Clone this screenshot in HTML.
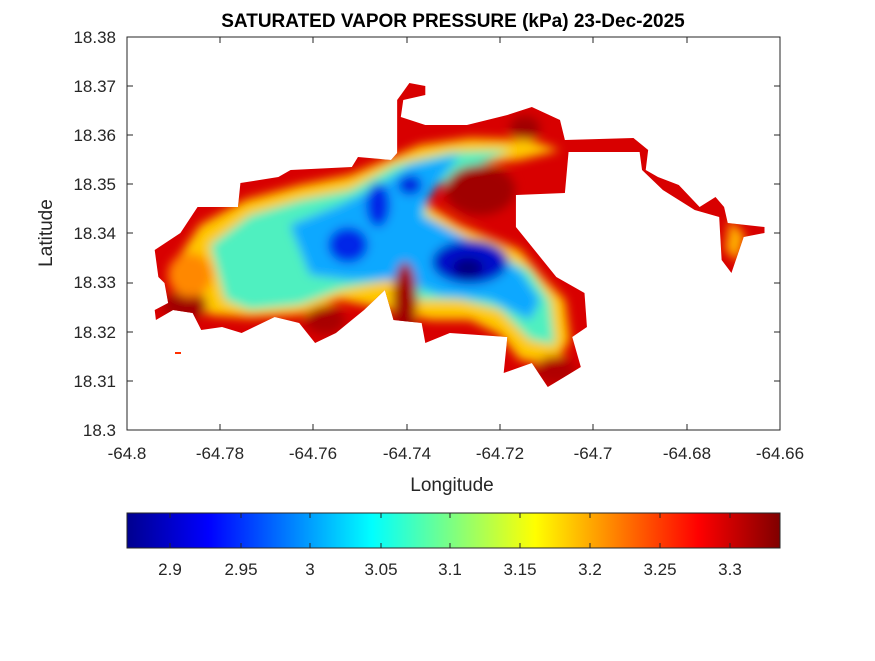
<!DOCTYPE html>
<html><head><meta charset="utf-8"><style>
body{margin:0;background:#fff;width:875px;height:656px;overflow:hidden}
svg{font-family:"Liberation Sans",sans-serif}
</style></head><body>
<svg width="875" height="656" viewBox="0 0 875 656">
<defs>
<clipPath id="isl"><path transform="translate(140,0) scale(1.2245,1) translate(-140,0)" d="M318,157 L345,160 L350,153 L350,100 L353,95 L360,83 L373,86 L373,95 L355,100 L353,117 L373,125 L407,125 L440,115 L460,107 L483,120 L487,140 L543,138 L555,150 L553,170 L563,177 L580,185 L597,207 L610,197 L617,207 L620,223 L650,227 L650,233 L633,237 L623,273 L615,260 L613,217 L593,210 L567,190 L550,170 L548,152 L490,152 L487,193 L447,195 L447,227 L480,277 L503,293 L505,327 L493,337 L500,367 L473,387 L460,363 L437,373 L440,337 L393,333 L373,343 L370,323 L347,320 L340,290 L323,310 L300,333 L283,343 L270,323 L250,317 L223,333 L207,327 L190,330 L183,313 L167,310 L153,320 L152,310 L163,303 L160,283 L155,277 L152,250 L173,233 L187,207 L220,207 L222,183 L253,177 L263,170 L313,167 Z"/></clipPath>
<filter id="bl" x="-20%" y="-20%" width="140%" height="140%"><feGaussianBlur stdDeviation="5"/></filter>
<linearGradient id="jet" x1="0" x2="1">
<stop offset="0" stop-color="#00008f"/><stop offset="0.125" stop-color="#0000ff"/><stop offset="0.375" stop-color="#00ffff"/><stop offset="0.625" stop-color="#ffff00"/><stop offset="0.875" stop-color="#ff0000"/><stop offset="1" stop-color="#800000"/>
</linearGradient>
</defs>
<rect x="127" y="37" width="653" height="393" fill="#fff" stroke="#262626" stroke-width="1"/>
<g clip-path="url(#isl)">
<rect x="140" y="70" width="650" height="330" fill="#d80000"/>
<g filter="url(#bl)">
<path d="M180,255 L200,225 L245,200 L300,185 L350,175 L385,160 L420,145 L470,138 L530,140 L560,150 L520,160 L470,165 L430,185 L420,200 L460,225 L520,250 L545,280 L565,300 L570,340 L555,365 L520,360 L500,335 L470,320 L430,320 L390,310 L340,300 L300,315 L250,318 L210,315 L185,300 Z" fill="#ffc800"/>
<path d="M730,220 L745,235 L738,262 L725,250 Z" fill="#ffb000"/>
<path d="M210,245 L250,215 L300,200 L350,190 L395,165 L450,152 L510,150 L470,170 L430,190 L425,215 L470,240 L530,270 L550,300 L555,345 L530,340 L500,310 L460,300 L420,300 L390,280 L340,290 L300,305 L250,310 L225,300 Z" fill="#50f0c0"/>
<path d="M290,225 L340,205 L380,185 L410,165 L460,155 L440,180 L420,215 L470,240 L520,270 L540,300 L530,320 L490,300 L440,295 L400,280 L350,280 L310,275 Z" fill="#10a8ff"/>
<ellipse cx="348" cy="245" rx="20" ry="18" fill="#0028e8"/>
<ellipse cx="378" cy="205" rx="12" ry="22" fill="#0028e8"/>
<ellipse cx="410" cy="185" rx="12" ry="10" fill="#0020e0"/>
<ellipse cx="470" cy="262" rx="38" ry="22" fill="#0010c8"/>
<ellipse cx="468" cy="268" rx="15" ry="10" fill="#000080"/>
<ellipse cx="480" cy="190" rx="35" ry="25" fill="#a00000"/>
<ellipse cx="405" cy="300" rx="12" ry="38" fill="#a00000"/>
<ellipse cx="185" cy="305" rx="22" ry="14" fill="#a00000"/>
<ellipse cx="325" cy="320" rx="20" ry="14" fill="#a80000"/>
<ellipse cx="525" cy="128" rx="15" ry="12" fill="#a00000"/>
<ellipse cx="555" cy="370" rx="20" ry="14" fill="#b00000"/>
<ellipse cx="190" cy="275" rx="22" ry="22" fill="#ff8800"/>
<ellipse cx="385" cy="86" rx="12" ry="4" fill="#ffff40"/>
</g>
</g>
<rect x="175" y="352" width="6" height="2" fill="#ff3000"/>
<g fill="#262626" font-size="17" text-anchor="middle">
<text x="127" y="459">-64.8</text><text x="220" y="459">-64.78</text><text x="313" y="459">-64.76</text><text x="407" y="459">-64.74</text><text x="500" y="459">-64.72</text><text x="593" y="459">-64.7</text><text x="687" y="459">-64.68</text><text x="780" y="459">-64.66</text>
<text x="452" y="491" font-size="19">Longitude</text>
</g>
<g fill="#262626" font-size="17" text-anchor="end">
<text x="116" y="43">18.38</text><text x="116" y="92">18.37</text><text x="116" y="141">18.36</text><text x="116" y="190">18.35</text><text x="116" y="239">18.34</text><text x="116" y="288">18.33</text><text x="116" y="338">18.32</text><text x="116" y="387">18.31</text><text x="116" y="436">18.3</text>
</g>
<g stroke="#262626" stroke-width="1">
<path d="M220,430v-6M313,430v-6M407,430v-6M500,430v-6M593,430v-6M687,430v-6M220,37v6M313,37v6M407,37v6M500,37v6M593,37v6M687,37v6"/>
<path d="M127,86h6M127,135h6M127,184h6M127,233h6M127,283h6M127,332h6M127,381h6M780,86h-6M780,135h-6M780,184h-6M780,233h-6M780,283h-6M780,332h-6M780,381h-6"/>
</g>
<text x="52" y="233" font-size="19" fill="#262626" text-anchor="middle" transform="rotate(-90 52 233)">Latitude</text>
<text x="453" y="27" font-size="19" font-weight="bold" fill="#000" text-anchor="middle">SATURATED VAPOR PRESSURE (kPa) 23-Dec-2025</text>
<rect x="127" y="513" width="653" height="35" fill="url(#jet)" stroke="#262626" stroke-width="1"/>
<g stroke="#262626"><path d="M170,548v-5M241,548v-5M310,548v-5M381,548v-5M450,548v-5M520,548v-5M590,548v-5M660,548v-5M730,548v-5M170,513v5M241,513v5M310,513v5M381,513v5M450,513v5M520,513v5M590,513v5M660,513v5M730,513v5"/></g>
<g fill="#262626" font-size="17" text-anchor="middle">
<text x="170" y="575">2.9</text><text x="241" y="575">2.95</text><text x="310" y="575">3</text><text x="381" y="575">3.05</text><text x="450" y="575">3.1</text><text x="520" y="575">3.15</text><text x="590" y="575">3.2</text><text x="660" y="575">3.25</text><text x="730" y="575">3.3</text>
</g>
</svg>
</body></html>
